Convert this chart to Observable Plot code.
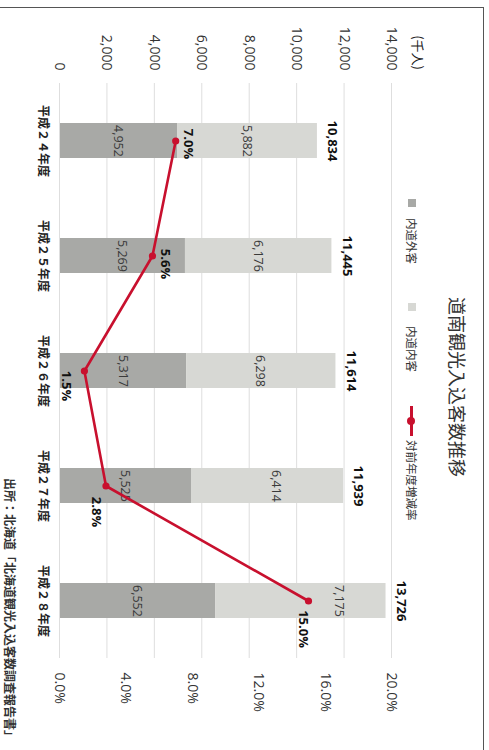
<!DOCTYPE html>
<html><head><meta charset="utf-8">
<script src="https://cdn.jsdelivr.net/npm/d3@7"></script>
<script src="https://cdn.jsdelivr.net/npm/@observablehq/plot@0.6"></script>
<style>
html,body{margin:0;padding:0;background:#fff;overflow:hidden;width:489px;height:750px;}
#page{position:absolute;left:0;top:0;width:750px;height:489px;transform-origin:0 0;transform:translate(489px,0) rotate(90deg);background:#fff;overflow:hidden;}
#frame{position:absolute;left:7px;top:5px;width:760px;height:500px;border-top:1.5px solid #555;border-left:1.5px solid #555;box-sizing:border-box;}
#chart{position:absolute;left:0;top:0;}
.abs{position:absolute;white-space:nowrap;font-family:"Noto Sans CJK JP",sans-serif;color:#222;}
#title{left:297px;top:18px;font-size:18px;line-height:26px;color:#333;}
.sw{position:absolute;width:8px;height:8px;}
.lg{font-size:11.5px;line-height:16px;top:69px;color:#333;}
#unit{font-size:13px;line-height:18px;top:62px;right:680px;}
#source{left:478px;top:470px;font-size:12px;line-height:18px;font-weight:bold;color:#333;}
</style>
</head><body>
<div id="page">
  <div id="chart"></div>
  <div id="frame"></div>
  <div class="abs" id="title">道南観光入込客数推移</div>
  <div class="abs" id="unit">(千人)</div>
  <div class="abs" id="source">出所：北海道「北海道観光入込客数調査報告書」</div>
  <div id="legend"></div>
</div>
<script>
// ---- data ----
const categories = ["平成２４年度", "平成２５年度", "平成２６年度", "平成２７年度", "平成２８年度"];
const seriesNames = ["内道外客", "内道内客"];
const outsideVisitors = [4952, 5269, 5317, 5525, 6552];   // 内道外客
const insideVisitors  = [5882, 6176, 6298, 6414, 7175];   // 内道内客
const totals = [10834, 11445, 11614, 11939, 13726];
const growthRate = [7.0, 5.6, 1.5, 2.8, 15.0];           // 対前年度増減率 (%)
const lineName = "対前年度増減率";
const leftTicks = [0, 2000, 4000, 6000, 8000, 10000, 12000, 14000];
const rightTicks = [0, 4, 8, 12, 16, 20];

// ---- styling ----
const darkGray = "#a8a9a6", lightGray = "#d7d8d4", red = "#c8102e";
const numFont = "'Open Sans', 'DejaVu Sans', sans-serif";
const cjkFont = "'Noto Sans CJK JP', sans-serif";
const k = leftTicks[leftTicks.length - 1] / rightTicks[rightTicks.length - 1]; // right axis -> left axis units

const stacked = [];
categories.forEach((c, i) => {
  stacked.push({cat: c, i, series: seriesNames[0], value: outsideVisitors[i], mid: outsideVisitors[i] / 2});
  stacked.push({cat: c, i, series: seriesNames[1], value: insideVisitors[i], mid: outsideVisitors[i] + insideVisitors[i] / 2});
});
const totalRows = categories.map((c, i) => ({cat: c, total: totals[i]}));
const pctRows = categories.map((c, i) => ({cat: c, pct: growthRate[i], y: growthRate[i] * k}));
const pctNudge = [[3, -12], [8, -13], [15, 18], [26, 10], [28, 5]];
// segment labels that sit off-centre in the reference: [category index, series, vertical nudge]
const segNudge = [[3, seriesNames[1], -9], [4, seriesNames[1], -39]];
const isNudged = d => segNudge.some(([i, s]) => i === d.i && s === d.series);

const fmt = d3.format(",");
const segText = {x: "cat", y: "mid", text: d => fmt(d.value), fontSize: 12.5, fill: "#3a3a3a", fontFamily: numFont};

const chart = Plot.plot({
  width: 750,
  height: 489,
  marginTop: 97,
  marginBottom: 60,
  marginLeft: 83,
  marginRight: 92,
  style: {background: "transparent", fontFamily: numFont, color: "#333"},
  x: {domain: categories, paddingInner: 0.696, paddingOuter: 0.348, label: null},
  y: {domain: [0, 14000], label: null},
  color: {domain: seriesNames, range: [darkGray, lightGray]},
  marks: [
    Plot.gridY(leftTicks, {stroke: "#dedede", strokeOpacity: 1, strokeWidth: 1}),
    Plot.barY(stacked, {x: "cat", y: "value", fill: "series", order: seriesNames}),
    Plot.text(stacked, {...segText, filter: d => !isNudged(d)}),
    ...segNudge.map(([i, s, dy]) => Plot.text(stacked, {...segText, filter: d => d.i === i && d.series === s, dy})),
    Plot.text(totalRows, {x: "cat", y: "total", text: d => fmt(d.total), dy: -16, fontSize: 13, fontWeight: "bold", fill: "#111", fontFamily: numFont}),
    Plot.line(pctRows, {x: "cat", y: "y", stroke: red, strokeWidth: 2.6}),
    Plot.dot(pctRows, {x: "cat", y: "y", r: 3.6, fill: red, stroke: "none"}),
    ...pctNudge.map(([dx, dy], i) => Plot.text(pctRows, {
      filter: (d, j) => j === i, x: "cat", y: "y", text: d => d.pct.toFixed(1) + "%",
      dx, dy, fontSize: 13, fontWeight: "bold", fill: "#111", fontFamily: numFont
    })),
    Plot.axisY(leftTicks, {anchor: "left", tickSize: 0, tickPadding: 13, tickFormat: fmt, fontSize: 14, fontFamily: numFont, fill: "#333", label: null}),
    Plot.axisY(rightTicks.map(t => t * k), {anchor: "right", tickSize: 0, tickPadding: 14, tickFormat: d => (d / k).toFixed(1) + "%", fontSize: 14, fontFamily: numFont, fill: "#333", label: null}),
    Plot.axisX({anchor: "bottom", tickSize: 0, tickPadding: 12, fontSize: 12, fontFamily: cjkFont, fontWeight: "bold", fill: "#222", label: null})
  ]
});
document.getElementById("chart").appendChild(chart);

// ---- legend (HTML, positioned in the unrotated frame) ----
const legend = document.getElementById("legend");
function add(html) { legend.insertAdjacentHTML("beforeend", html); }
add(`<div class="sw" style="left:199px;top:73px;background:${darkGray}"></div>`);
add(`<div class="abs lg" style="left:218px">${seriesNames[0]}</div>`);
add(`<div class="sw" style="left:303px;top:73px;background:${lightGray}"></div>`);
add(`<div class="abs lg" style="left:326px">${seriesNames[1]}</div>`);
add(`<div style="position:absolute;left:406px;top:76px;width:30px;height:2.6px;background:${red}"></div>`);
add(`<div style="position:absolute;left:417px;top:73.5px;width:8px;height:8px;border-radius:50%;background:${red}"></div>`);
add(`<div class="abs lg" style="left:440px">${lineName}</div>`);
</script>
</body></html>
